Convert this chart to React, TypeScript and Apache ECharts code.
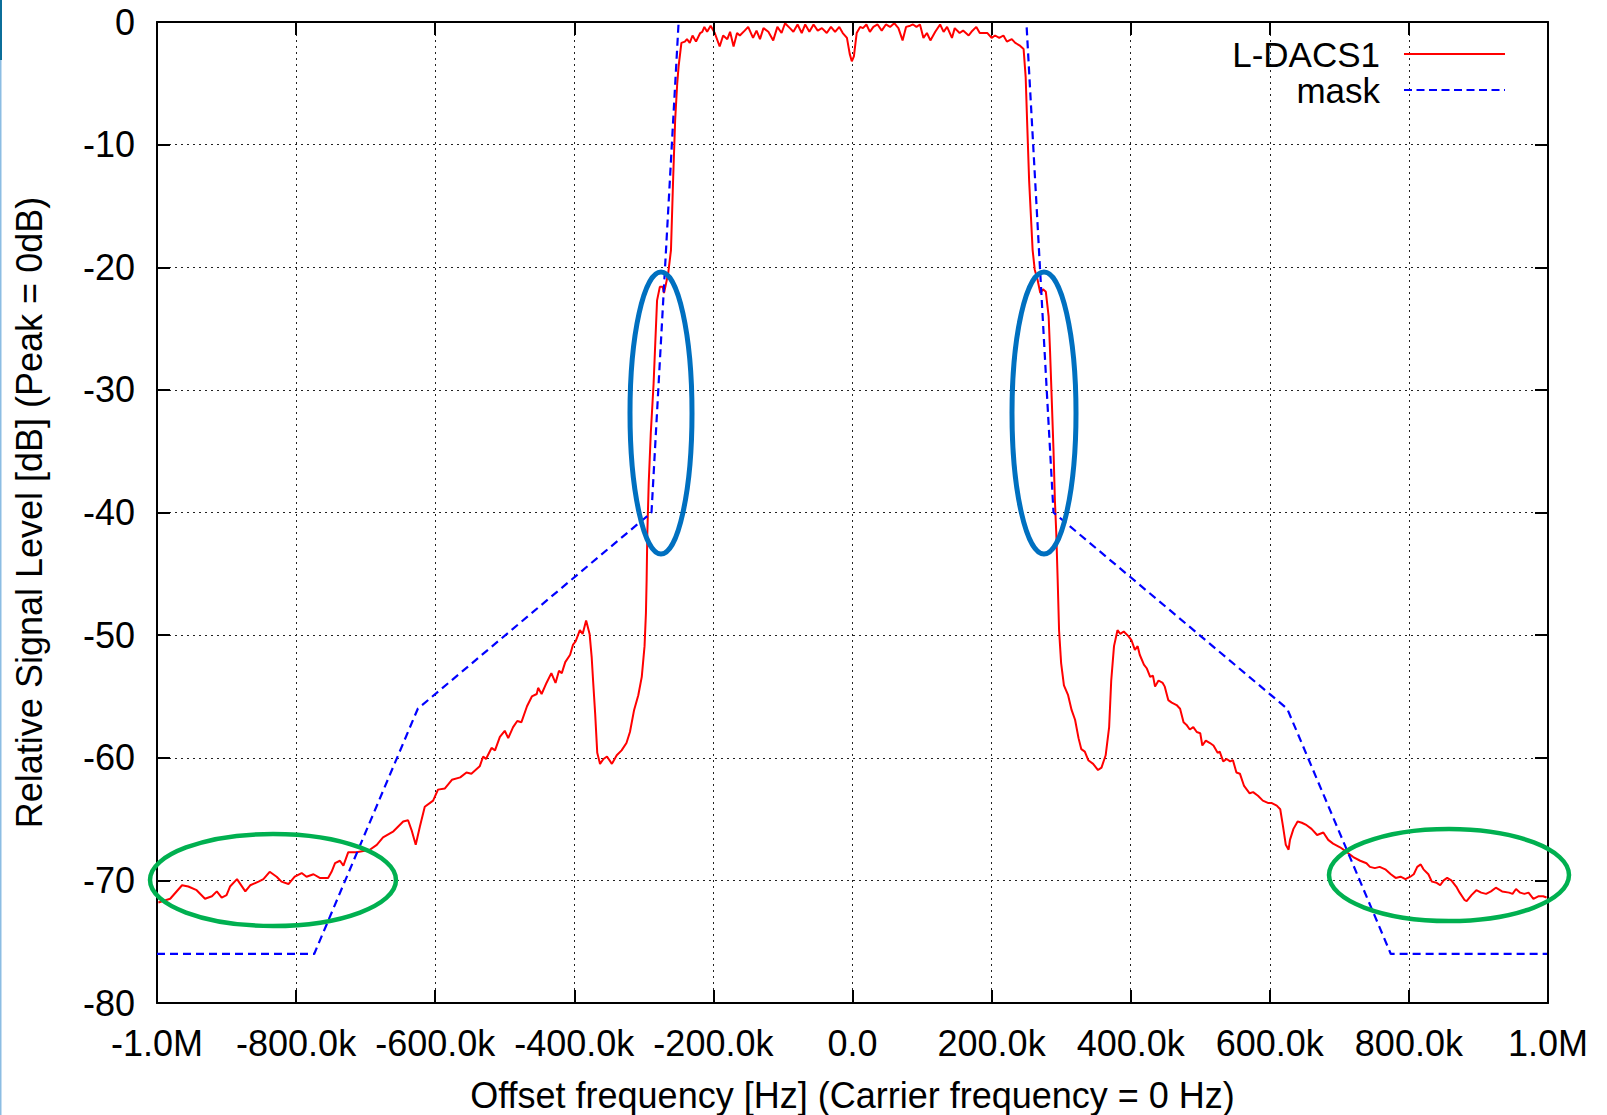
import React, { useEffect, useRef } from "react";
import * as echarts from "echarts";

// ---------- data ----------
const xTickLabels = ["-1.0M", "-800.0k", "-600.0k", "-400.0k", "-200.0k", "0.0", "200.0k", "400.0k", "600.0k", "800.0k", "1.0M"];
const yTickLabels = ["-80", "-70", "-60", "-50", "-40", "-30", "-20", "-10", "0"];

// L-DACS1 spectrum: frequency offset (kHz) and relative level (dB)
const ldacsFreq = [
  -998, -981, -964, -955, -943, -931, -921, -914, -907, -900, -895, -885, -873, -866, -854, -847, -838, -828, -821, -811,
  -802, -792, -785, -775, -766, -754, -749, -744, -737, -732, -725, -713, -694, -684, -675, -660, -646, -639, -634, -628,
  -622, -615, -603, -596, -586, -576, -564, -555, -548, -536, -531, -527, -519, -514, -507, -500, -495, -488, -482, -476,
  -468, -461, -454, -452, -447, -440, -433, -427, -422, -418, -413, -406, -402, -398, -392, -388, -383, -378, -375, -373,
  -370, -367, -363, -358, -353, -346, -339, -332, -325, -320, -314, -308, -303, -299, -297, -296, -295, -293, -290, -286,
  -283, -281, -277, -273, -271, -265, -261, -258, -255, -252, -250, -246, -241, -238, -234, -230, -225, -219, -216, -213,
  -209, -204, -198, -191, -186, -180, -176, -171, -166, -162, -155, -150, -143, -138, -133, -128, -121, -114, -108, -102,
  -97, -90, -85, -79, -73, -68, -62, -56, -50, -44, -37, -31, -25, -19, -14, -8, -4, -1, 2, 6,
  11, 15, 20, 25, 30, 36, 42, 48, 54, 60, 66, 72, 77, 83, 87, 92, 97, 102, 107, 112,
  119, 126, 131, 136, 143, 147, 154, 159, 167, 171, 178, 183, 188, 194, 200, 205, 211, 217, 222, 229,
  234, 240, 246, 249, 251, 254, 259, 262, 266, 270, 274, 278, 282, 284, 286, 289, 291, 293, 295, 297,
  300, 304, 310, 315, 320, 325, 329, 334, 339, 346, 353, 358, 364, 369, 372, 376, 381, 385, 390, 397,
  401, 406, 410, 413, 419, 423, 428, 432, 435, 440, 446, 449, 454, 459, 466, 471, 476, 480, 485, 490,
  495, 500, 503, 508, 514, 519, 525, 528, 533, 538, 543, 547, 552, 557, 563, 571, 576, 583, 590, 598,
  603, 610, 615, 619, 623, 627, 629, 634, 640, 646, 653, 660, 668, 677, 684, 691, 701, 711, 720, 730,
  739, 744, 751, 758, 766, 774, 781, 788, 795, 802, 807, 812, 817, 821, 828, 833, 840, 845, 850, 855,
  861, 868, 873, 880, 883, 890, 897, 904, 911, 918, 925, 934, 944, 949, 954, 960, 966, 972, 979, 986,
  993, 998,
];
const ldacsLevel = [
  -71.8, -71.5, -70.4, -70.5, -70.8, -71.5, -71.3, -70.9, -71.4, -71.2, -70.5, -69.9, -70.9, -70.4, -70.1, -69.9, -69.3, -69.7, -70.1, -70.3,
  -69.7, -69.4, -69.7, -69.5, -69.8, -69.8, -69.3, -68.6, -68.4, -68.8, -67.7, -67.7, -67.5, -67.1, -66.5, -66.0, -65.2, -65.1, -65.9, -67.1,
  -65.6, -64.0, -63.5, -62.6, -62.5, -61.8, -61.6, -61.2, -61.3, -60.7, -59.9, -60.1, -59.2, -59.4, -58.3, -57.8, -58.4, -57.5, -57.0, -57.1,
  -55.8, -55.0, -54.8, -54.3, -54.8, -53.9, -53.1, -53.9, -52.9, -53.1, -52.2, -51.6, -50.8, -50.5, -49.6, -49.9, -48.8, -49.9, -51.8, -53.7,
  -56.4, -59.6, -60.5, -60.1, -59.9, -60.5, -59.8, -59.4, -58.8, -57.9, -56.1, -54.9, -53.4, -50.9, -48.2, -45.5, -41.7, -37.6, -33.5, -29.5,
  -25.4, -22.7, -21.6, -21.6, -22.1, -20.5, -18.6, -13.0, -8.0, -5.0, -3.6, -1.7, -1.6, -1.4, -1.7, -1.1, -1.6, -0.9, -0.8, -0.4,
  -0.8, -0.3, -0.9, -2.0, -1.1, -1.4, -0.8, -2.0, -0.9, -1.1, -0.7, -0.4, -1.3, -0.7, -1.4, -0.5, -0.8, -1.5, -0.4, -0.9,
  -0.1, -0.5, -0.8, -0.2, -0.9, -0.2, -0.8, -0.2, -0.7, -0.5, -0.9, -0.4, -0.8, -0.4, -0.9, -1.3, -2.6, -3.2, -2.8, -0.9,
  -0.4, -0.5, -0.2, -0.8, -0.4, -0.2, -0.7, -0.2, -0.4, -0.1, -0.5, -1.5, -0.4, -0.3, -0.2, -0.4, -0.2, -1.3, -0.9, -1.5,
  -0.8, -0.2, -0.8, -0.4, -1.3, -0.5, -0.9, -0.7, -1.1, -0.8, -0.4, -0.9, -0.9, -0.9, -1.3, -1.1, -1.3, -1.1, -1.6, -1.4,
  -1.7, -1.9, -2.2, -4.5, -8.0, -13.0, -18.6, -20.2, -21.0, -22.1, -21.8, -22.0, -24.0, -26.8, -30.0, -34.9, -39.0, -41.7, -45.5, -49.6,
  -52.3, -54.1, -54.9, -56.1, -56.9, -58.4, -59.3, -59.5, -60.2, -60.5, -61.0, -60.8, -59.8, -57.5, -53.7, -50.9, -49.6, -49.9, -49.7, -50.1,
  -50.4, -51.2, -50.9, -51.6, -52.4, -52.7, -53.4, -53.3, -54.2, -53.7, -53.9, -54.2, -55.3, -55.5, -55.7, -56.0, -57.1, -57.3, -57.7, -57.5,
  -57.9, -58.0, -59.0, -58.6, -58.8, -59.0, -59.6, -59.5, -60.3, -60.1, -60.3, -60.2, -61.2, -61.3, -62.3, -62.9, -62.8, -63.1, -63.5, -63.7,
  -63.7, -63.9, -64.2, -65.6, -67.1, -67.5, -66.7, -65.8, -65.2, -65.3, -65.5, -65.8, -66.3, -66.1, -66.7, -67.0, -67.3, -67.7, -68.1, -68.4,
  -68.6, -68.9, -69.0, -68.9, -69.1, -69.5, -69.8, -69.7, -69.9, -69.7, -69.5, -68.9, -68.7, -69.1, -69.5, -70.1, -70.2, -70.4, -70.0, -69.8,
  -70.0, -70.5, -71.0, -71.6, -71.7, -71.2, -70.8, -71.0, -71.1, -70.9, -70.6, -70.9, -71.0, -71.1, -70.7, -71.0, -71.1, -71.0, -71.5, -71.3,
  -71.3, -71.4,
];

// spectrum mask
const maskFreq = [-1000, -774, -625, -289, -250, 250, 289, 625, 774, 1000];
const maskLevel = [-76, -76, -56, -40, 0, 0, -40, -56, -76, -76];

const FONT = '"Liberation Sans", Arial, Helvetica, sans-serif';

export default function App() {
  const ref = useRef<HTMLDivElement>(null);

  useEffect(() => {
    if (!ref.current) return;
    const chart = echarts.init(ref.current, undefined, { renderer: "svg" });

    const gridDash = { color: "#222", width: 1, type: [2, 4] as any };
    const frameLine = { show: true, onZero: false, lineStyle: { color: "#000", width: 2 } };
    const tick = { show: true, inside: true, length: 13, lineStyle: { color: "#000", width: 2 } };

    const option: any = {
      animation: false,
      backgroundColor: "#fff",
      textStyle: { fontFamily: FONT },
      grid: { left: 157, right: 59, top: 22, bottom: 112, containLabel: false, outerBoundsMode: "none" },
      xAxis: [
        {
          type: "value",
          position: "bottom",
          min: -1000,
          max: 1000,
          interval: 200,
          axisLine: frameLine,
          axisTick: tick,
          splitLine: { show: true, lineStyle: gridDash },
          axisLabel: {
            fontSize: 36,
            color: "#000",
            fontFamily: FONT,
            margin: 22,
            formatter: (v: number) => xTickLabels[Math.round((v + 1000) / 200)] ?? "",
          },
          name: "Offset frequency [Hz] (Carrier frequency = 0 Hz)",
          nameLocation: "middle",
          nameGap: 74,
          nameTextStyle: { fontSize: 36, lineHeight: 36, color: "#000", fontFamily: FONT },
        },
        {
          type: "value",
          position: "top",
          min: -1000,
          max: 1000,
          interval: 200,
          z: 10,
          axisLine: frameLine,
          axisTick: tick,
          splitLine: { show: false },
          axisLabel: { show: false },
        },
      ],
      yAxis: [
        {
          type: "value",
          position: "left",
          min: -80,
          max: 0,
          interval: 10,
          axisLine: frameLine,
          axisTick: tick,
          splitLine: { show: true, lineStyle: gridDash },
          axisLabel: {
            fontSize: 36,
            color: "#000",
            fontFamily: FONT,
            margin: 22,
            formatter: (v: number) => yTickLabels[Math.round((v + 80) / 10)] ?? "",
          },
          name: "Relative Signal Level [dB] (Peak = 0dB)",
          nameLocation: "middle",
          nameGap: 110,
          nameTextStyle: { fontSize: 36, color: "#000", fontFamily: FONT },
        },
        {
          type: "value",
          position: "right",
          min: -80,
          max: 0,
          interval: 10,
          z: 10,
          axisLine: frameLine,
          axisTick: tick,
          splitLine: { show: false },
          axisLabel: { show: false },
        },
      ],
      series: [
        {
          name: "L-DACS1",
          type: "line",
          xAxisIndex: 0,
          yAxisIndex: 0,
          data: ldacsFreq.map((f, i) => [f, ldacsLevel[i]]),
          showSymbol: false,
          symbol: "none",
          lineStyle: { color: "#ff0000", width: 2 },
          z: 2,
        },
        {
          name: "mask",
          type: "line",
          xAxisIndex: 0,
          yAxisIndex: 0,
          data: maskFreq.map((f, i) => [f, maskLevel[i]]),
          showSymbol: false,
          symbol: "none",
          lineStyle: { color: "#0000ff", width: 2.2, type: [8, 5] },
          z: 3,
        },
      ],
      graphic: [
        // slide edge strip
        { type: "rect", shape: { x: 0, y: 0, width: 2, height: 60 }, style: { fill: "#0b6e99" }, z: 100 },
        { type: "rect", shape: { x: 0, y: 60, width: 1.5, height: 1055 }, style: { fill: "#8cbde3" }, z: 100 },
        // legend
        {
          type: "text",
          z: 100,
          style: { text: "L-DACS1", x: 1380, y: 54, align: "right", verticalAlign: "middle", font: `35px ${FONT}`, fill: "#000" },
        },
        { type: "line", z: 100, shape: { x1: 1404, y1: 54, x2: 1505, y2: 54 }, style: { stroke: "#ff0000", lineWidth: 2 } },
        {
          type: "text",
          z: 100,
          style: { text: "mask", x: 1380, y: 90, align: "right", verticalAlign: "middle", font: `35px ${FONT}`, fill: "#000" },
        },
        {
          type: "line",
          z: 100,
          shape: { x1: 1404, y1: 90, x2: 1505, y2: 90 },
          style: { stroke: "#0000ff", lineWidth: 2, lineDash: [8, 4.5] },
        },
        // annotations
        { type: "ellipse", z: 110, shape: { cx: 661, cy: 413, rx: 31, ry: 141 }, style: { fill: "none", stroke: "#0070c0", lineWidth: 5 } },
        { type: "ellipse", z: 110, shape: { cx: 1044, cy: 413, rx: 32, ry: 141 }, style: { fill: "none", stroke: "#0070c0", lineWidth: 5 } },
        { type: "ellipse", z: 110, shape: { cx: 273, cy: 880, rx: 123, ry: 46 }, style: { fill: "none", stroke: "#00b050", lineWidth: 4.5 } },
        { type: "ellipse", z: 110, shape: { cx: 1449, cy: 875, rx: 120, ry: 46 }, style: { fill: "none", stroke: "#00b050", lineWidth: 4.5 } },
      ],
    };

    chart.setOption(option);
    return () => chart.dispose();
  }, []);

  return <div ref={ref} style={{ position: "absolute", left: 0, top: 0, width: 1607, height: 1115 }} />;
}
